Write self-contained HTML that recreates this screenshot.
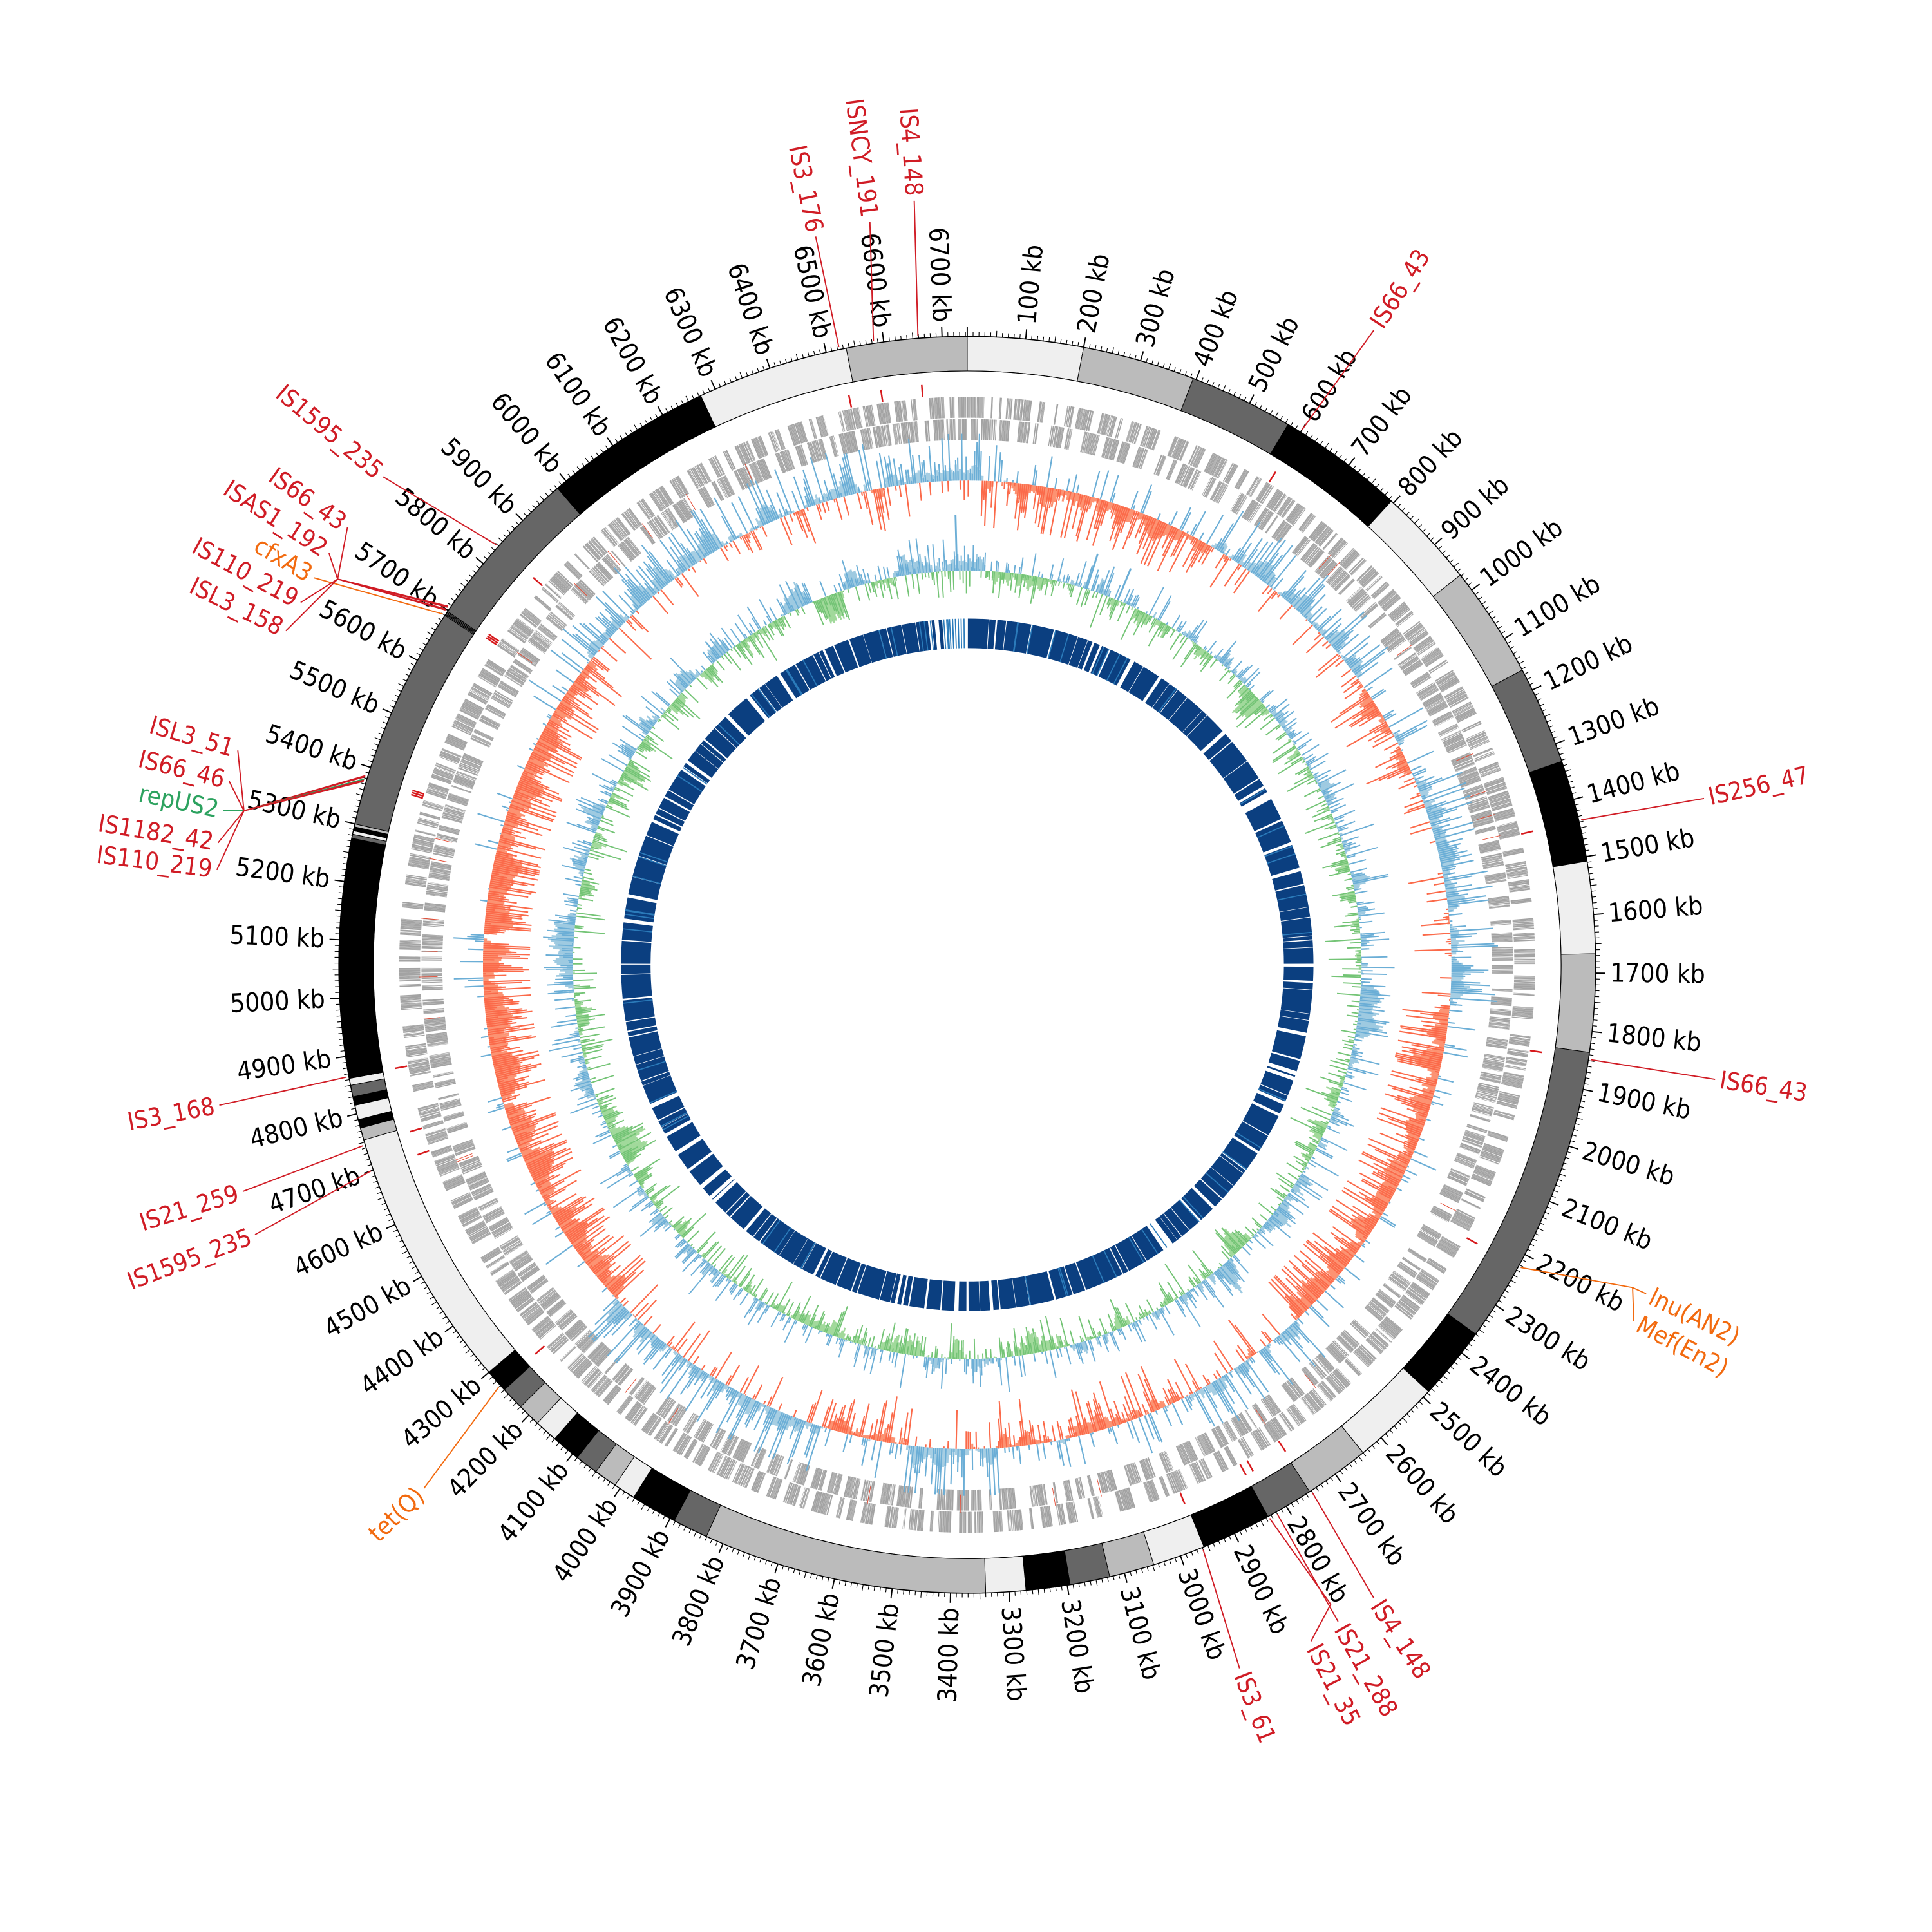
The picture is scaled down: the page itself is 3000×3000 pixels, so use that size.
<!DOCTYPE html>
<html><head><meta charset="utf-8"><style>
html,body{margin:0;padding:0;background:#fff;}
svg{display:block;}
text{font-family:"DejaVu Sans Condensed","DejaVu Sans","Liberation Sans",sans-serif;}
</style></head><body>
<svg id="s" xmlns="http://www.w3.org/2000/svg" width="3000" height="3000" viewBox="0 0 1568 1568">
<rect width="1568" height="1568" fill="#fff"/>
<g id="g"></g>
</svg>
<script>
(function(){
const L=6743,CX=785,CY=783;
const g=document.getElementById('g');
const NS='http://www.w3.org/2000/svg';
let seed=12345;function rnd(){seed|=0;seed=seed+0x6D2B79F5|0;let t=Math.imul(seed^seed>>>15,1|seed);t=t+Math.imul(t^t>>>7,61|t)^t;return((t^t>>>14)>>>0)/4294967296;}
function f(n){return n.toFixed(2);}
function P(r,a){const t=a*Math.PI/180;return [CX+r*Math.sin(t),CY-r*Math.cos(t)];}
function A(kb){return kb/L*360;}
function sec(r1,r2,a1,a2){const lg=(a2-a1)>180?1:0;const p1=P(r2,a1),p2=P(r2,a2),p3=P(r1,a2),p4=P(r1,a1);
return `M${f(p1[0])},${f(p1[1])}A${r2},${r2} 0 ${lg} 1 ${f(p2[0])},${f(p2[1])}L${f(p3[0])},${f(p3[1])}A${r1},${r1} 0 ${lg} 0 ${f(p4[0])},${f(p4[1])}Z`;}
function el(tag,attrs,txt){const e=document.createElementNS(NS,tag);for(const k in attrs)e.setAttribute(k,attrs[k]);if(txt!==undefined)e.textContent=txt;g.appendChild(e);return e;}
function rl(r1,r2,a){const p=P(r1,a),q=P(r2,a);return `M${f(p[0])},${f(p[1])}L${f(q[0])},${f(q[1])}`;}

const W='#efefef',G='#bbbbbb',D='#666666',B='#000000';
const bands=[[0,200,W],[200,395,G],[395,575,D],[575,795,B],[795,968,W],[968,1162,G],[1162,1332,D],[1332,1508,B],[1508,1667,W],[1667,1836,G],[1836,2360,D],[2360,2487,B],[2487,2640,W],[2640,2753,G],[2753,2836,D],[2836,2957,B],[2957,3048,W],[3048,3126,G],[3126,3195,D],[3195,3271,B],[3271,3340,W],[3340,3831,G],[3831,3892,D],[3892,3972,B],[3972,4010,W],[4010,4050,G],[4050,4090,D],[4090,4140,B],[4140,4180,W],[4180,4220,G],[4220,4260,D],[4260,4300,B],[4300,4754,W],[4754,4775,G],[4775,4790,B],[4790,4815,W],[4815,4830,B],[4830,4850,D],[4850,4862,W],[4862,4880,B],[4880,5275,B],[5275,5282,D],[5282,5288,W],[5288,5295,B],[5295,5300,G],[5300,5981,D],[5981,6273,B],[6273,6535,W],[6535,6743,G]];
const R1=482,R2=510;
bands.forEach(b=>el('path',{d:sec(R1,R2,A(b[0]),A(b[1])),fill:b[2],stroke:'#000','stroke-width':0.5}));
el('circle',{cx:CX,cy:CY,r:R2,fill:'none',stroke:'#000','stroke-width':0.8});
el('circle',{cx:CX,cy:CY,r:R1,fill:'none',stroke:'#000','stroke-width':0.6});
let st='';for(let k=5690;k<5700;k+=2)st+=rl(R1,R2,A(k));
el('path',{d:st,stroke:'#000','stroke-width':0.6});
let tk='',tM='';
for(let k=0;k<L;k+=10){if(k%100===0)tM+=rl(R2,R2+8,A(k));else tk+=rl(R2,R2+(k%50===0?5:3.5),A(k));}
el('path',{d:tk,stroke:'#000','stroke-width':0.6});
el('path',{d:tM,stroke:'#000','stroke-width':1});
for(let k=100;k<L;k+=100){const a=A(k);const p=P(522,a);let rot,anc;
if(a<180){rot=a-90;anc='start';}else{rot=a+90;anc='end';}
el('text',{x:f(p[0]),y:f(p[1]),'font-size':21,'text-anchor':anc,'dominant-baseline':'central',transform:`rotate(${f(rot)} ${f(p[0])} ${f(p[1])})`,fill:'#000'},k+' kb');}

// Gene tracks
let gp='';
function lane(r1,r2,s){let pos=s;while(pos<L){let run=3+rnd()*30;let end=Math.min(L,pos+run);
let x=pos;while(x<end){let gl=0.6+rnd()*2.5;let e2=Math.min(end,x+gl);gp+=sec(r1,r2,A(x),A(e2));x=e2+(rnd()<0.3?0.4+rnd()*1.0:0.2);}
pos=end+3+rnd()*(rnd()<0.25?30:14);}}
lane(444,461,0);lane(426,443,7);
el('path',{d:gp,fill:'#a3a3a3'});
let gr='';for(let i=0;i<30;i++){const a=rnd()*360;gr+=rl(430,445,a);}
el('path',{d:gr,stroke:'#e34a33','stroke-width':0.5});

// GC skew
const N=1500;
const redR=[[30,560,-0.3],[1000,1250,-0.15],[1780,2560,-0.45],[2900,3300,-0.2],[4250,5600,-0.5],[5600,5780,-0.3],[3500,3700,-0.1]];
function base(kb){for(const r of redR)if(kb>=r[0]&&kb<r[1])return r[2];return 0.3;}
let raw=[];for(let i=0;i<N;i++){const kb=(i+0.5)/N*L;raw.push(base(kb)+(rnd()-0.5)*1.9*(0.4+rnd()));}
let sm=[];for(let i=0;i<N;i++){let s=0;for(let j=-3;j<=3;j++)s+=raw[(i+j+N)%N];sm.push(s/7);}
let fb='',fr='',lb='',lr='';const r0=393,amp=38;
for(let i=0;i<N;i++){const a1=i/N*360,a2=(i+1)/N*360;const v=sm[i];
if(v>0)fb+=sec(r0,r0+v*amp*0.7,a1,a2);else fr+=sec(r0+v*amp*0.7,r0,a1,a2);
const w=Math.max(-1,Math.min(1,raw[i]));const am=(a1+a2)/2;
if(w>0)lb+=rl(r0,r0+w*amp,am);else lr+=rl(r0+w*amp,r0,am);}
el('path',{d:fb,fill:'#a6cee3'});el('path',{d:fr,fill:'#fc9272'});
el('path',{d:lb,stroke:'#6baed6','stroke-width':1.1});el('path',{d:lr,stroke:'#fb6a4a','stroke-width':1.1});

// GC content
let raw2=[];for(let i=0;i<N;i++)raw2.push((rnd()-0.5)*1.5*(0.4+rnd()));
let sm2=[];for(let i=0;i<N;i++){let s=0;for(let j=-5;j<=5;j++)s+=raw2[(i+j+N)%N];sm2.push(s/11);}
let gb='',gg='',l2b='',l2g='';const q0=320,amp2=30;
for(let i=0;i<N;i++){const a1=i/N*360,a2=(i+1)/N*360;const v=sm2[i]*2.2;
if(v>0)gb+=sec(q0,q0+v*amp2,a1,a2);else gg+=sec(q0+v*amp2,q0,a1,a2);
const w=Math.max(-1,Math.min(1,raw2[i]));const am=(a1+a2)/2;
if(w>0)l2b+=rl(q0,q0+w*amp2,am);else l2g+=rl(q0+w*amp2,q0,am);}
el('path',{d:gb,fill:'#9ecae1'});el('path',{d:gg,fill:'#a1d99b'});
el('path',{d:l2b,stroke:'#6baed6','stroke-width':1});el('path',{d:l2g,stroke:'#74c476','stroke-width':1});
el('path',{d:rl(q0,q0+45,A(6715))+rl(q0,q0+30,A(330))+rl(q0,q0+28,A(420)),stroke:'#6baed6','stroke-width':1.5});

// Inner blue ring
const bigGaps=[[6665,6738],[1125,1150],[2690,2725],[2040,2052],[3290,3300],[5700,5712],[4260,4272]];
function inGap(x){for(const q of bigGaps)if(x>=q[0]&&x<q[1])return q[1];return 0;}
let bp='',bl='';let pos=2;
while(pos<L){const gE=inGap(pos);if(gE){pos=gE;continue;}
let len=8+rnd()*70;let end=Math.min(L-5,pos+len);
for(const q of bigGaps)if(pos<q[0]&&end>q[0])end=q[0];
if(end>pos)bp+=sec(257,281,A(pos),A(end));
pos=end+(rnd()<0.3?4+rnd()*10:1+rnd()*3);}
el('path',{d:bp,fill:'#0b3f80'});
for(let i=0;i<60;i++){const a=rnd()*360;bl+=rl(257,281,a);}
for(let k=6670;k<6738;k+=9)bl+=rl(257,281,A(k));
el('path',{d:bl,stroke:'#2b7bba','stroke-width':0.9});

const feats=[6523,6583,6659,600,1437,1848,2223,2750,2820,2835,2960,4270,4745,4700,4865,5376,5380,5384,5698,5702,5706,5839];
let fr2='';feats.forEach(k=>fr2+=rl(462,472,A(k)));
el('path',{d:fr2,stroke:'#d7191c','stroke-width':1.3});

const RED='#d01c25',OR='#f26a0f',GR='#2ca25f';
function lab(t,c,pts){let d='M'+pts.map(p=>p[0]+','+p[1]).join('L');
el('path',{d:d,fill:'none',stroke:c,'stroke-width':1});
const p=pts[pts.length-1];let a=Math.atan2(p[0]-CX,-(p[1]-CY))*180/Math.PI;if(a<0)a+=360;
let rot,anc;if(a<180){rot=a-90;anc='start';}else{rot=a+90;anc='end';}
const u=P(4,a);const ox=u[0]-CX,oy=u[1]-CY;
const x=p[0]+ox,y=p[1]+oy;
el('text',{x:f(x),y:f(y),'font-size':20,'text-anchor':anc,'dominant-baseline':'central',transform:`rotate(${f(rot)} ${f(x)} ${f(y)})`,fill:c},t);}
function ring(k,r){return P(r||512,A(k)).map(v=>+v.toFixed(1));}
lab('IS3_176',RED,[ring(6523),[662,192]]);
lab('ISNCY_191',RED,[ring(6583),[706,180]]);
lab('IS4_148',RED,[ring(6659),[742,163]]);
lab('IS66_43',RED,[ring(600),[1115,268]]);
lab('IS256_47',RED,[ring(1437),[1383,648]]);
lab('IS66_43',RED,[ring(1848),[1392,876]]);
lab('lnu(AN2)',OR,[ring(2223),[1325,1045],[1336,1050]]);
lab('Mef(En2)',OR,[[1325,1045],[1326,1072]]);
lab('IS4_148',RED,[ring(2750),[1115,1297]]);
lab('IS21_288',RED,[ring(2820),[1086,1316]]);
lab('IS21_35',RED,[ring(2835),[1080,1302],[1064,1332]]);
lab('IS3_61',RED,[ring(2960),[1006,1354]]);
lab('tet(Q)',OR,[ring(4270),[344,1208]]);
lab('IS1595_235',RED,[ring(4700),[207,1002]]);
lab('IS21_259',RED,[ring(4745),[197,967]]);
lab('IS3_168',RED,[ring(4865),[178,897]]);
lab('ISL3_51',RED,[ring(5384),[198,658],[193,609]]);
lab('IS66_46',RED,[ring(5382),[198,658],[186,634]]);
lab('repUS2',GR,[ring(5378),[198,658],[181,658]]);
lab('IS1182_42',RED,[ring(5376),[198,658],[177,684]]);
lab('IS110_219',RED,[ring(5374),[198,658],[176,706]]);
lab('IS1595_235',RED,[ring(5839),[311,387]]);
lab('IS66_43',RED,[ring(5706),[274,470],[282,428]]);
lab('ISAS1_192',RED,[ring(5704),[274,470],[267,449]]);
lab('cfxA3',OR,[ring(5690),[255,469]]);
lab('IS110_219',RED,[ring(5700),[274,470],[244,489]]);
lab('ISL3_158',RED,[ring(5698),[274,470],[232,512]]);
})();
</script>
</body></html>
